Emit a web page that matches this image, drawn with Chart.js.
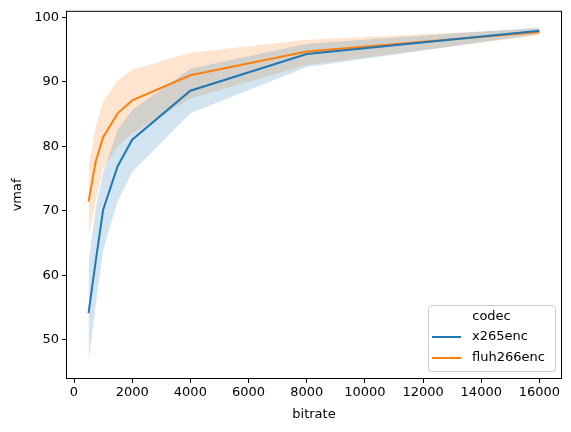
<!DOCTYPE html>
<html>
<head>
<meta charset="utf-8">
<script src="https://cdn.jsdelivr.net/npm/chart.js@4.4.1/dist/chart.umd.min.js"></script>
<style>
    html, body { margin: 0; padding: 0; background: #fff; }
    canvas { display: block; }
</style>
</head>
<body>
<canvas id="chart" width="571" height="432"></canvas>
<script>
// Data (seaborn lineplot, mean + CI band)
const bitrates = [500, 750, 1000, 1500, 2000, 4000, 8000, 16000];

const x265Mean  = [54.1, 62.3, 70.1, 76.9, 81.0, 88.6, 94.3, 97.9];
const x265Upper = [62.0, 70.5, 75.8, 82.6, 85.6, 92.0, 95.9, 98.4];
const x265Lower = [46.5, 55.5, 63.8, 71.5, 76.0, 85.1, 92.3, 97.4];

const fluhMean  = [71.4, 77.7, 81.4, 85.1, 87.1, 91.0, 94.7, 97.7];
const fluhUpper = [76.8, 83.1, 86.9, 90.2, 91.9, 94.5, 96.5, 98.2];
const fluhLower = [65.9, 71.5, 76.5, 80.0, 82.0, 87.4, 92.6, 97.2];

const xTicks = [0, 2000, 4000, 6000, 8000, 10000, 12000, 14000, 16000];
const yTicks = [50, 60, 70, 80, 90, 100];

const BLUE = '#1f77b4';
const ORANGE = '#ff7f0e';
const FONT = '"DejaVu Sans", sans-serif';
const FSIZE = 13;

function pts(values) {
    return bitrates.map((b, i) => ({ x: b, y: values[i] }));
}

function lineSet(label, values, color) {
    return {
        label: label,
        data: pts(values),
        borderColor: color,
        borderWidth: 2,
        pointRadius: 0,
        fill: false,
        tension: 0,
        order: 0
    };
}

function bandSet(values, color, fill) {
    return {
        label: '_band',
        data: pts(values),
        borderWidth: 0,
        borderColor: 'rgba(0,0,0,0)',
        backgroundColor: color,
        pointRadius: 0,
        fill: fill,
        tension: 0,
        order: 1
    };
}

// frame + legend drawn on top of the plot
const framePlugin = {
    id: 'frame',
    afterDraw(chart) {
        const { ctx, chartArea: a } = chart;
        ctx.save();
        ctx.strokeStyle = '#000';
        ctx.lineWidth = 1;
        ctx.strokeRect(a.left + 0.5, a.top + 0.5, a.right - a.left - 1, a.bottom - a.top - 1);

        // legend box
        const bx = 428, by = 305, bw = 127, bh = 66;
        ctx.beginPath();
        ctx.roundRect(bx + 0.5, by + 0.5, bw, bh, 3);
        ctx.fillStyle = 'rgba(255,255,255,0.8)';
        ctx.fill();
        ctx.strokeStyle = '#cccccc';
        ctx.stroke();

        ctx.fillStyle = '#000';
        ctx.font = FSIZE + 'px ' + FONT;
        ctx.textBaseline = 'middle';
        ctx.textAlign = 'center';
        ctx.fillText('codec', bx + bw / 2, by + 12);

        ctx.textAlign = 'left';
        const items = chart.data.datasets.filter(d => d.label !== '_band');
        items.forEach((d, i) => {
            const y = by + 32 + i * 21;
            ctx.beginPath();
            ctx.moveTo(bx + 4, y);
            ctx.lineTo(bx + 33, y);
            ctx.strokeStyle = d.borderColor;
            ctx.lineWidth = 2;
            ctx.stroke();
            ctx.fillText(d.label, bx + 44, y);
        });
        ctx.restore();
    }
};

new Chart(document.getElementById('chart'), {
    type: 'line',
    data: {
        datasets: [
            lineSet('x265enc', x265Mean, BLUE),
            lineSet('fluh266enc', fluhMean, ORANGE),
            bandSet(x265Upper, 'rgba(31,119,180,0.2)', '+1'),
            bandSet(x265Lower, 'rgba(31,119,180,0.2)', false),
            bandSet(fluhUpper, 'rgba(255,127,14,0.2)', '+1'),
            bandSet(fluhLower, 'rgba(255,127,14,0.2)', false)
        ]
    },
    options: {
        responsive: false,
        animation: false,
        layout: { padding: { left: 0, right: 9, top: 9, bottom: 0 } },
        plugins: {
            legend: { display: false },
            tooltip: { enabled: false }
        },
        scales: {
            x: {
                type: 'linear',
                min: -275,
                max: 16775,
                afterBuildTicks: s => { s.ticks = xTicks.map(v => ({ value: v })); },
                afterFit: s => { s.height = 53; },
                grid: { drawOnChartArea: false, tickLength: 4, color: '#000', lineWidth: 1 },
                border: { display: false },
                ticks: { color: '#000', font: { family: FONT, size: FSIZE }, padding: 2, maxRotation: 0, callback: v => String(v) },
                title: { display: true, text: 'bitrate', color: '#000', font: { family: FONT, size: FSIZE }, padding: { top: 4, bottom: 10 } }
            },
            y: {
                min: 43.9,
                max: 101.0,
                afterBuildTicks: s => { s.ticks = yTicks.map(v => ({ value: v })); },
                afterFit: s => { s.width = 66; },
                grid: { drawOnChartArea: false, tickLength: 4, color: '#000', lineWidth: 1 },
                border: { display: false },
                ticks: { color: '#000', font: { family: FONT, size: FSIZE }, padding: 3, callback: v => String(v) },
                title: { display: true, text: 'vmaf', color: '#000', font: { family: FONT, size: FSIZE }, padding: { top: 10, bottom: 4 } }
            }
        }
    },
    plugins: [framePlugin]
});
</script>
</body>
</html>
